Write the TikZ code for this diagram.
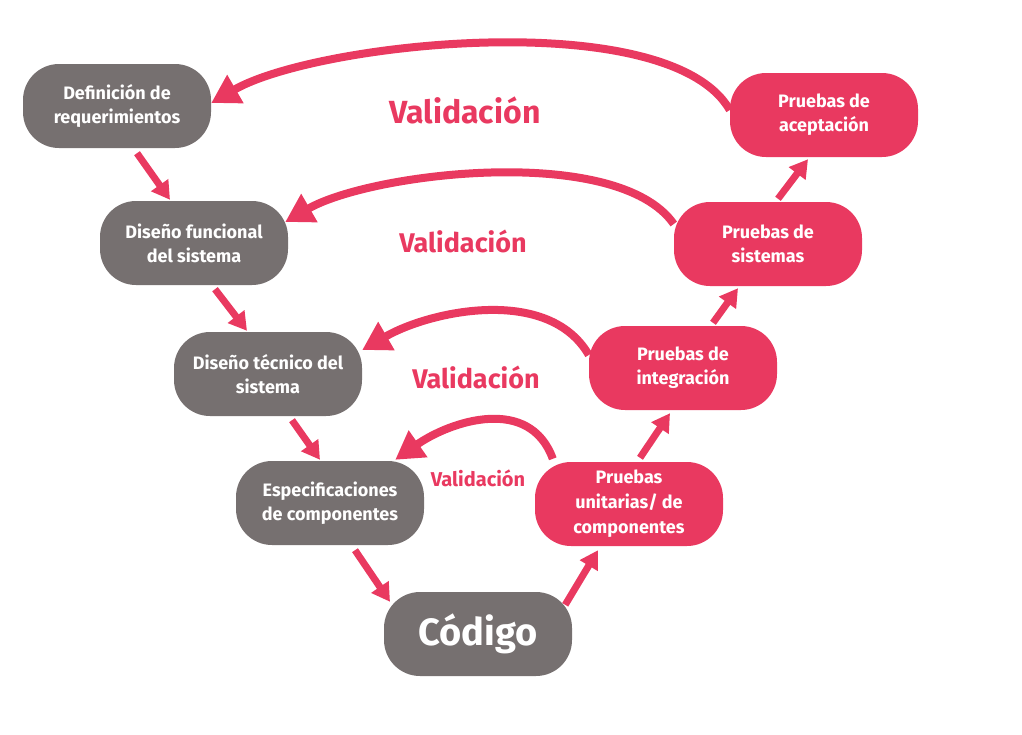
\documentclass[tikz,border=0pt]{standalone}
\usepackage{fontspec}
\setmainfont{Fira Sans}
\usetikzlibrary{arrows.meta}
\definecolor{fasegris}{RGB}{118,112,112}
\definecolor{faserosa}{RGB}{233,57,96}
\tikzset{
  fase/.style={rounded corners=36pt, minimum width=188pt, minimum height=84pt, inner sep=0pt,
    align=center, text=white, font=\bfseries\fontsize{18}{24}\selectfont},
  disenio/.style={fase, fill=fasegris},
  prueba/.style={fase, fill=faserosa},
  paso/.style={draw=faserosa, line width=7pt, -{Triangle[length=18pt,width=20pt]}},
  valida/.style={draw=faserosa, line width=8pt, -{Triangle[length=28pt,width=31pt]}},
  etiq/.style={text=faserosa, font=\bfseries\fontsize{32}{34}\selectfont}
}
\begin{document}
\begin{tikzpicture}[x=1pt,y=1pt]
\useasboundingbox (0,0) rectangle (1022,-734);

\node[disenio] (req) at (117,-106) {Definición de\\requerimientos};
\node[disenio] (dfun) at (194,-243) {Diseño funcional\\del sistema};
\node[disenio] (dtec) at (268,-374) {Diseño técnico del\\sistema};
\node[disenio] (espec) at (330,-503) {Especificaciones\\de componentes};
\node[disenio, font=\bfseries\fontsize{38}{40}\selectfont] (cod) at (478,-634) {Código};
\node[prueba, font=\bfseries\fontsize{18}{25}\selectfont] (unit) at (629,-504) {Pruebas\\unitarias/ de\\componentes};
\node[prueba] (integ) at (683,-368) {Pruebas de\\integración};
\node[prueba] (sist) at (768,-244) {Pruebas de\\sistemas};
\node[prueba] (acep) at (824,-115) {Pruebas de\\aceptación};

\draw[paso] ([xshift=20pt,yshift=-5pt]req.south) -- ([xshift=-24pt,yshift=1pt]dfun.north);
\draw[paso] ([xshift=21pt,yshift=-4pt]dfun.south) -- ([xshift=-21pt,yshift=1pt]dtec.north);
\draw[paso] ([xshift=24pt,yshift=-4pt]dtec.south) -- ([xshift=-10pt,yshift=1pt]espec.north);
\draw[paso] ([xshift=25pt,yshift=-5pt]espec.south) -- ([xshift=-88pt,yshift=-10pt]cod.north);
\draw[paso] ([xshift=-7pt,yshift=-13pt]cod.north east) -- ([xshift=-31pt,yshift=-4pt]unit.south);
\draw[paso] ([xshift=11pt,yshift=4pt]unit.north) -- ([xshift=-13pt,yshift=-3pt]integ.south);
\draw[paso] ([xshift=30pt,yshift=3pt]integ.north) -- ([xshift=-30pt,yshift=-2pt]sist.south);
\draw[paso] ([xshift=10pt,yshift=3pt]sist.north) -- ([xshift=-16pt,yshift=-2pt]acep.south);

\draw[valida] ([yshift=5pt]acep.west) to[out=120,in=30,looseness=0.6] ([yshift=3pt]req.east);
\draw[valida] ([yshift=20pt]sist.west) to[out=125,in=30,looseness=0.65] ([xshift=-3pt,yshift=21pt]dfun.east);
\draw[valida] ([yshift=13pt]integ.west) to[out=120,in=30,looseness=0.9] ([yshift=24pt]dtec.east);
\draw[valida] ([xshift=18pt,yshift=3pt]unit.north west) to[out=110,in=35,looseness=1.1] ([xshift=-29pt,yshift=1pt]espec.north east);

\node[etiq] (val1) at (465,-110) {Validación};
\node[etiq, font=\bfseries\fontsize{27}{29}\selectfont] (val2) at (463,-241) {Validación};
\node[etiq, font=\bfseries\fontsize{27}{29}\selectfont] (val3) at (476,-377) {Validación};
\node[etiq, font=\bfseries\fontsize{20}{22}\selectfont] (val4) at (478,-478) {Validación};
\end{tikzpicture}
\end{document}
